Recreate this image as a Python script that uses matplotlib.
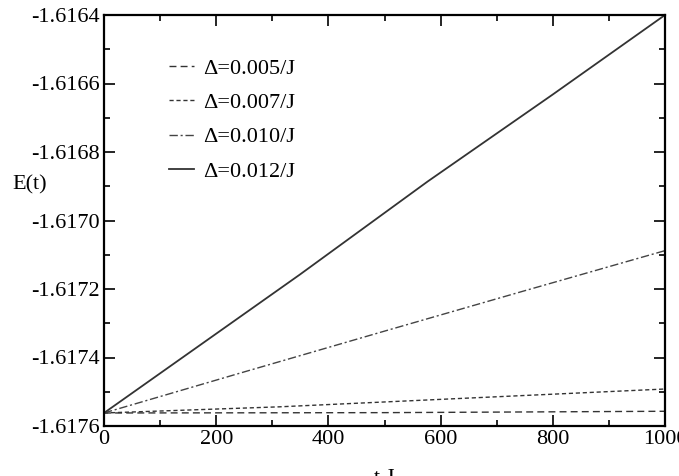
import matplotlib
matplotlib.use("Agg")
import matplotlib.pyplot as plt
from matplotlib.ticker import MultipleLocator, FormatStrFormatter

plt.rcParams['font.family'] = ['Liberation Serif', 'DejaVu Serif']

t_005 = [0, 500, 1000]
e_005 = [-1.617562, -1.617561, -1.617557]
t_007 = [0, 313, 669, 1000]
e_007 = [-1.617562, -1.617544, -1.617517, -1.617492]
t_010 = [0, 250, 500, 750, 1000]
e_010 = [-1.617562, -1.617442, -1.617323, -1.617205, -1.617088]
t_012 = [0, 349, 577, 800, 1000]
e_012 = [-1.617562, -1.617158, -1.616886, -1.616632, -1.616400]

labels = ["\u0394=0.005/J", "\u0394=0.007/J", "\u0394=0.010/J", "\u0394=0.012/J"]
xticks = [0, 200, 400, 600, 800, 1000]
yticks = [-1.6176, -1.6174, -1.6172, -1.6170, -1.6168, -1.6166, -1.6164]

fig = plt.figure(figsize=(6.79, 4.76), dpi=100)
ax = fig.add_axes([104/679, 1 - 426/476, (665-104)/679, (426-15)/476])

ax.plot(t_005, e_005, color='#333333', lw=1.0, linestyle=(0, (5, 3)), label=labels[0])
ax.plot(t_007, e_007, color='#333333', lw=1.0, linestyle=(0, (3, 2)), label=labels[1])
ax.plot(t_010, e_010, color='#444444', lw=1.0, linestyle=(0, (6, 2, 1.5, 2)), label=labels[2])
ax.plot(t_012, e_012, color='#333333', lw=1.3, linestyle='-', label=labels[3])

ax.set_xlim(0, 1000)
ax.set_ylim(-1.6176, -1.6164)
ax.set_xticks(xticks)
ax.set_yticks(yticks)
ax.yaxis.set_major_formatter(FormatStrFormatter('%.4f'))
ax.xaxis.set_minor_locator(MultipleLocator(100))
ax.yaxis.set_minor_locator(MultipleLocator(0.0001))
ax.tick_params(which='both', direction='in', top=True, right=True, labelsize=16, width=1.2, pad=3)
ax.tick_params(which='major', length=8)
ax.tick_params(which='minor', length=4)
for s in ax.spines.values():
    s.set_linewidth(1.6)

ax.set_xlabel("t J", fontsize=16, labelpad=14)
ax.set_ylabel("E(t)", fontsize=16, rotation=0, va='center', ha='center')
ax.yaxis.set_label_coords(-0.132, 0.586)

leg = ax.legend(loc='upper left', bbox_to_anchor=(0.116, 0.895), frameon=False,
                fontsize=16, handlelength=1.1, labelspacing=0.62, handletextpad=0.45,
                borderaxespad=0, borderpad=0)

fig.savefig("out.png", dpi=100)
